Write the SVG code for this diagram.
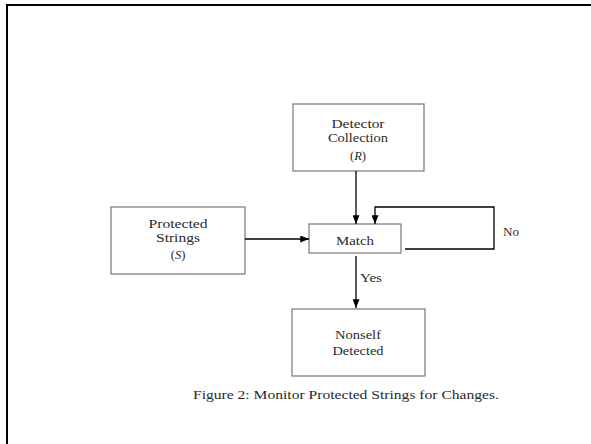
<svg xmlns="http://www.w3.org/2000/svg" width="591" height="444" viewBox="0 0 591 444">
  <defs>
    <marker id="head" viewBox="0 0 10 8" refX="10" refY="4" markerWidth="9" markerHeight="7" markerUnits="userSpaceOnUse" orient="auto">
      <path d="M0,0 L10,4 L0,8 z" fill="#000"/>
    </marker>
    <style>
      .box { fill: #fff; stroke: #777; stroke-width: 1.2; }
      .lbl { font-family: "Liberation Serif", "Times New Roman", serif; font-size: 12.5px; fill: #2a2a2a; text-anchor: middle; }
      .wire { fill: none; stroke: #000; stroke-width: 1.3; }
      .arrow { marker-end: url(#head); }
      .frame { fill: none; stroke: #000; stroke-width: 2; }
    </style>
  </defs>

  <rect width="591" height="444" fill="#fff"/>
  <!-- page frame (top and left edges) -->
  <path class="frame" d="M7,444 L7,5 L591,5"/>

  <g id="detector-collection">
    <rect class="box" x="293" y="104" width="131" height="67"/>
    <text class="lbl" x="358" y="128" textLength="53" lengthAdjust="spacingAndGlyphs">Detector</text>
    <text class="lbl" x="358" y="142" textLength="60" lengthAdjust="spacingAndGlyphs">Collection</text>
    <text class="lbl" x="358" y="160">(<tspan font-style="italic">R</tspan>)</text>
  </g>

  <g id="protected-strings">
    <rect class="box" x="111" y="207" width="134" height="67"/>
    <text class="lbl" x="178" y="228" textLength="59" lengthAdjust="spacingAndGlyphs">Protected</text>
    <text class="lbl" x="178" y="242" textLength="44" lengthAdjust="spacingAndGlyphs">Strings</text>
    <text class="lbl" x="178" y="259">(<tspan font-style="italic">S</tspan>)</text>
  </g>

  <g id="match">
    <rect class="box" x="309" y="224" width="92" height="29"/>
    <text class="lbl" x="355" y="245" textLength="38" lengthAdjust="spacingAndGlyphs">Match</text>
  </g>

  <g id="nonself-detected">
    <rect class="box" x="292" y="309" width="133" height="67"/>
    <text class="lbl" x="358" y="339" textLength="46" lengthAdjust="spacingAndGlyphs">Nonself</text>
    <text class="lbl" x="358" y="355" textLength="51" lengthAdjust="spacingAndGlyphs">Detected</text>
  </g>

  <g id="connectors">
    <path class="wire arrow" d="M356,171 L356,224"/>
    <path class="wire arrow" d="M245,239 L309,239"/>
    <path class="wire arrow" d="M405,249 L494,249 L494,207 L375,207 L375,224"/>
    <path class="wire arrow" d="M356,256 L356,308"/>
    <text class="lbl" x="511" y="236" textLength="16" lengthAdjust="spacingAndGlyphs">No</text>
    <text class="lbl" x="371" y="282" textLength="22" lengthAdjust="spacingAndGlyphs">Yes</text>
  </g>

  <text class="lbl" x="346" y="399" textLength="306" lengthAdjust="spacingAndGlyphs" font-size="13">Figure 2: Monitor Protected Strings for Changes.</text>
</svg>
